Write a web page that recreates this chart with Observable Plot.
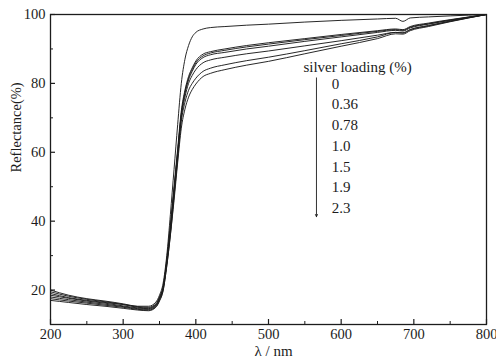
<!DOCTYPE html>
<html>
<head>
<meta charset="utf-8">
<script src="https://cdn.jsdelivr.net/npm/d3@7"></script>
<script src="https://cdn.jsdelivr.net/npm/@observablehq/plot@0.6"></script>
<style>
  html, body { margin: 0; padding: 0; background: #fff; }
  #chart svg { display: block; }
  #chart svg, #chart svg text { font-family: "Liberation Serif", "Times New Roman", serif; }
</style>
</head>
<body>
<div id="chart"></div>
<script>
// ---- data ----
const wavelength = [200, 225, 250, 275, 300, 320, 335, 345, 350, 355, 360, 365, 370, 375, 380, 385, 390, 395, 400, 410, 420, 440, 470, 500, 550, 600, 650, 675, 685, 695, 720, 750, 800];
const loadings = ["0", "0.36", "0.78", "1.0", "1.5", "1.9", "2.3"];
const r0   = [19.0, 17.8, 17.0, 16.4, 15.8, 15.3, 15.3, 16.5, 18.5, 22.0, 30.0, 42.0, 55.0, 68.0, 80.0, 87.0, 91.0, 93.5, 94.8, 95.8, 96.2, 96.5, 96.9, 97.2, 97.8, 98.3, 98.7, 98.9, 98.0, 99.0, 99.3, 99.6, 100];
const r036 = [20.0, 18.5, 17.5, 16.8, 16.0, 15.2, 15.0, 16.0, 18.0, 21.0, 29.0, 39.0, 50.0, 61.0, 72.0, 78.0, 82.0, 84.5, 86.5, 88.5, 89.2, 90.0, 91.0, 91.8, 93.0, 94.2, 95.3, 95.8, 95.6, 96.5, 97.5, 98.5, 100];
const r078 = [19.5, 18.2, 17.3, 16.6, 15.8, 15.0, 14.8, 15.8, 17.8, 21.0, 28.0, 38.0, 49.0, 60.0, 71.0, 77.5, 81.5, 84.0, 86.0, 88.0, 88.8, 89.6, 90.6, 91.4, 92.7, 93.9, 95.1, 95.6, 95.4, 96.3, 97.3, 98.4, 100];
const r10  = [18.5, 17.6, 16.8, 16.2, 15.4, 14.8, 14.6, 15.6, 17.5, 20.5, 28.0, 38.0, 49.0, 60.0, 71.0, 77.0, 81.0, 83.5, 85.5, 87.5, 88.3, 89.0, 90.0, 90.8, 92.2, 93.5, 94.8, 95.4, 95.2, 96.1, 97.2, 98.3, 100];
const r15  = [18.0, 17.2, 16.5, 15.9, 15.2, 14.6, 14.4, 15.4, 17.3, 20.5, 28.0, 37.0, 48.0, 59.0, 70.0, 76.0, 80.0, 82.3, 84.0, 86.0, 86.8, 87.6, 88.6, 89.4, 90.9, 92.4, 94.0, 94.8, 94.6, 95.6, 96.8, 98.1, 100];
const r19  = [17.5, 16.8, 16.2, 15.6, 15.0, 14.4, 14.2, 15.2, 17.0, 20.0, 27.0, 36.0, 47.0, 58.0, 69.0, 74.5, 78.0, 80.0, 81.5, 83.5, 84.4, 85.4, 86.6, 87.6, 89.5, 91.5, 93.5, 94.8, 94.7, 95.6, 96.7, 98.0, 100];
const r23  = [17.0, 16.4, 15.8, 15.3, 14.7, 14.2, 14.0, 15.0, 16.8, 19.8, 27.0, 36.0, 46.0, 57.0, 67.0, 72.5, 76.0, 78.2, 79.8, 82.0, 82.9, 84.0, 85.3, 86.4, 88.6, 90.8, 93.0, 94.4, 94.3, 95.3, 96.5, 97.9, 100];
const xMajor = [200, 300, 400, 500, 600, 700, 800];
const xMinor = [250, 350, 450, 550, 650, 750];
const yMajor = [20, 40, 60, 80, 100];
const yMinor = [30, 50, 70, 90];
const legendTitle = "silver loading (%)";
const xLabel = "λ / nm";
const yLabel = "Reflectance(%)";

// ---- build table ----
const series = [r0, r036, r078, r10, r15, r19, r23];
const rows = loadings.flatMap((s, i) => wavelength.map((w, j) => ({w, r: series[i][j], s})));
const legendRows = loadings.map((s, i) => ({s, i}));

const ink = "#1c1c1c";
const font = "Liberation Serif";
const W = 496, H = 364, mL = 50, mR = 10, mT = 14, mB = 40;
const pw = W - mL - mR, ph = H - mT - mB;

const chart = Plot.plot({
  width: W, height: H,
  marginLeft: mL, marginRight: mR, marginTop: mT, marginBottom: mB,
  style: {fontFamily: font, color: ink, background: "#fff"},
  x: {domain: [200, 800]},
  y: {domain: [10, 100]},
  marks: [
    Plot.line(rows, {x: "w", y: "r", z: "s", stroke: ink, strokeWidth: 0.95, curve: "monotone-x"}),
    // inward ticks
    Plot.ruleX(xMajor, {x: d => d, insetTop: ph - 5, stroke: ink, strokeWidth: 1.2}),
    Plot.ruleX(xMinor, {x: d => d, insetTop: ph - 3, stroke: ink, strokeWidth: 1}),
    Plot.ruleY(yMajor, {y: d => d, insetRight: pw - 5, stroke: ink, strokeWidth: 1.2}),
    Plot.ruleY(yMinor, {y: d => d, insetRight: pw - 3, stroke: ink, strokeWidth: 1}),
    Plot.frame({stroke: ink, strokeWidth: 1.3}),
    Plot.axisX({ticks: xMajor, tickSize: 0, tickPadding: 4, fontSize: 14.5, fontFamily: font, label: null, tickFormat: d => d}),
    Plot.axisY({ticks: yMajor, tickSize: 0, tickPadding: 5, fontSize: 14.5, fontFamily: font, label: null, tickFormat: d => d}),
    Plot.text([xLabel], {frameAnchor: "bottom", dy: 31, dx: 5, fontSize: 15, fontFamily: font, fill: ink}),
    Plot.text([yLabel], {frameAnchor: "left", rotate: -90, dx: -34, dy: 3, fontSize: 14.5, fontFamily: font, fill: ink}),
    // legend annotation
    Plot.text([legendTitle], {x: 548, y: 84.6, textAnchor: "start", fontSize: 15, fontFamily: font, fill: ink}),
    Plot.arrow([{x: 566, y1: 81.6, y2: 41.3}], {x1: "x", x2: "x", y1: "y1", y2: "y2", stroke: ink, strokeWidth: 0.9, headLength: 4, headAngle: 50}),
    Plot.text(legendRows, {x: 587, y: d => 79.9 - 6.03 * d.i, text: "s", textAnchor: "start", fontSize: 15, fontFamily: font, fill: ink})
  ]
});
document.getElementById("chart").appendChild(chart);
</script>
</body>
</html>
